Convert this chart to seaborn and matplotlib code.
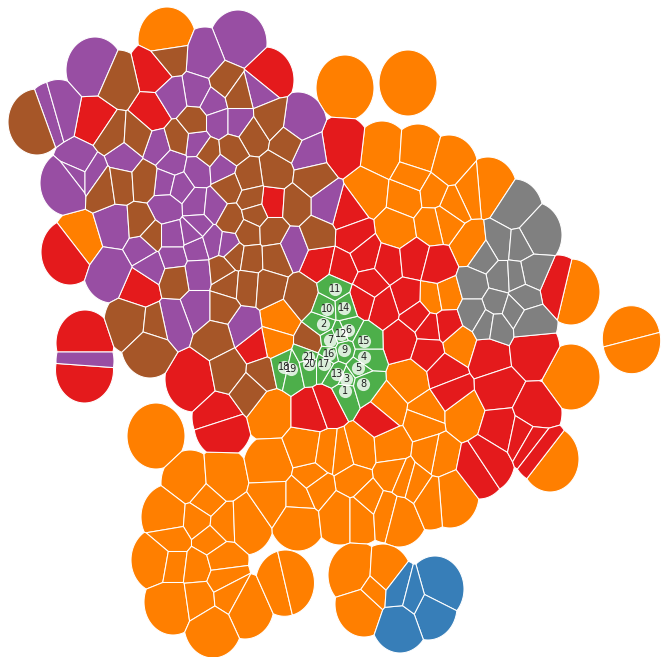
import numpy as np
import pandas as pd
import seaborn as sns
import matplotlib
matplotlib.use('Agg')
import matplotlib.pyplot as plt

# cell centres, pixel coordinates, one list per group
orange = [(167,40),(345,88),(408,83),(382,154),(418,157),(449,168),(488,190),(470,192),(452,203),(472,247),
          (368,192),(407,197),(413,177),(434,193),(443,220),(397,230),(433,223),(433,298),(446,295),
          (280,320),(275,342),(81,241),(156,436),(410,380),(387,407),(427,413),(459,343),(463,413),(425,420),
          (437,455),(450,495),(571,377),(631.3,338.7),(631.7,340.7),(550,459),(571,292),(270,410),
          (190,483),(222,480),(207,502),(170,517),(198,520),(173,540),(210,540),(223,523),(245,522),(160,560),
          (173,563),(198,567),(220,559),(173,602),(200,597),(222,579),(228,594),(245,606),(213,625),
          (284.5,583.3),(285.5,583),(272,467),(273,497),(299,497),(312,478),(307,450),(298,518),(327,454),
          (342,456),(360,450),(390,447),(433,454),(393,474),(353,480),(317,487),(340,512),(360,512),(368,500),
          (387,510),(399,514),(404,480),(415,484),(430,497),(357,575),(383,577),(364,604),(374,590)]
red = [(155,72),(97,122),(153,113),(265,80),(342,148),(272,203),(70,252),(142,287),(85,343),(84.5,370),
       (194,379),(221,417),(223,425),(255,347),(312,410),(327,403),(347,212),(354,237),(320,262),(342,268),
       (365,255),(370,285),(389,263),(413,260),(437,268),(447,325),(407,297),(383,307),(363,300),
       (402,340),(417,316),(429,328),(428,351),(445,372),(451,392),(380,418),
       (489,355),(531,349),(558,288),(498,390),(501,428),(479,466),(486,460),(533,413),(523,434),(531,440),(541,450)]
purple = [(95,70),(238,43),(205,60),(197,92),(173,97),(213,103),(218,122),(238,122),(260,88),(298,125),(308,155),
          (327,205),(293,247),(159,147),(197,143),(124,158),(172,163),(198,170),(222,168),(166,183),(179,187),
          (197,205),(167,207),(213,207),(81,165),(78,174),(69,183),(92,174),(117,227),(143,247),(152,267),(112,270),
          (173,237),(173,257),(197,248),(192,233),(198,225),(213,242),(228,245),(198,273),(198,308),(173,320),
          (243,327),(85,361),(53,114.5),(58.4,112.5)]
brown = [(169,57),(118,83),(37,122),(112,135),(137,137),(178,140),(195,122),(208,153),(225,83),(238,95),(104,185),(120,182),
         (145,180),(140,225),(150,237),(252,135),(270,120),(232,150),(275,172),(288,143),(248,177),(229,187),(252,200),
         (231,220),(255,213),(295,205),(312,178),(317,235),(248,233),(272,232),(235,255),(250,258),
         (275,257),(228,283),(247,285),(268,287),(222,270),(222,308),(302,297),(133,322),(155,325),(150,345),(217,337),
         (230,370),(250,390),(262,373),(312,343),(175,278)]
gray = [(514,212),(533,235),(501,243),(519,245),(531,273),(483,257),(501,278),(516,277),(474,285),(523,297),(496,303),
        (474,313),(487,323),(497,325),(513,310),(529,322)]
blue = [(435,589),(428,607),(400,620),(398,592),(413,597)]
green_labels = [str(i) for i in range(1, 22)]
green_x = [345,323,346,364,358,348,330,363,344,327,335,341,337,344,364,329,324,284,291,309,308]
green_y = [391,324,379,357,368,330,340,384,350,309,289,334,374,308,341,354,364,367,369,364,357]

colors = {'orange':'#ff7f00', 'red':'#e41a1c', 'purple':'#984ea3', 'brown':'#a65628',
          'gray':'#808080', 'blue':'#377eb8', 'green':'#4daf4a'}

rows = []
for name, pts in [('orange',orange),('red',red),('purple',purple),('brown',brown),('gray',gray),('blue',blue),
                  ('green',list(zip(green_x,green_y)))]:
    for p in pts:
        rows.append((p[0], p[1], name))
df = pd.DataFrame(rows, columns=['x','y','group'])

RX, RY = 29.0, 33.0

# voronoi cell of one centre, cut down to its ellipse (half plane clipping)
def clip(poly, mid, normal):
    out = []
    d = (poly - mid) @ normal
    for i in range(len(poly)):
        j = (i + 1) % len(poly)
        if d[i] <= 0:
            out.append(poly[i])
        if d[i] * d[j] < 0:
            out.append(poly[i] + (poly[j] - poly[i]) * d[i] / (d[i] - d[j]))
    return np.array(out) if out else np.zeros((0, 2))

sites = df[['x','y']].to_numpy() / [RX, RY]
t = np.linspace(0, 2 * np.pi, 90, endpoint=False)
circle = np.column_stack([np.cos(t), np.sin(t)])

sns.set_theme(style='white')
fig, ax = plt.subplots(figsize=(6.66, 6.57), dpi=100)
fig.subplots_adjust(0, 0, 1, 1)

for k, s in enumerate(sites):
    poly = circle + s
    for m, o in enumerate(sites):
        if m != k and len(poly) and np.hypot(*(o - s)) < 2:
            poly = clip(poly, (s + o) / 2, o - s)
    if len(poly):
        ax.fill(poly[:,0] * RX, poly[:,1] * RY, facecolor=colors[df['group'].iloc[k]],
                edgecolor='white', linewidth=0.75, joinstyle='round')

nodes = pd.DataFrame({'x': green_x, 'y': green_y, 'label': green_labels})
sns.scatterplot(data=nodes, x='x', y='y', s=90, color='white', alpha=0.8, linewidth=0, ax=ax, zorder=3)
for _, r in nodes.iterrows():
    ax.text(r['x'], r['y'], r['label'], ha='center', va='center', fontsize=7, color='#222222', zorder=4)

ax.set_xlim(0, 666)
ax.set_ylim(657, 0)
ax.axis('off')
fig.savefig('out.png', dpi=100, facecolor='white')
